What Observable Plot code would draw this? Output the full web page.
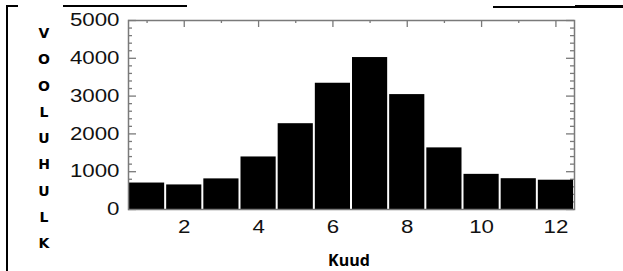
<!DOCTYPE html>
<html><head><meta charset="utf-8">
<script src="https://cdn.jsdelivr.net/npm/d3@7"></script>
<script src="https://cdn.jsdelivr.net/npm/@observablehq/plot@0.6"></script>
<style>
body{margin:0;background:#fff;}
#wrap{position:relative;width:623px;height:271px;overflow:hidden;background:#fff;}
#wrap svg{position:absolute;left:0;top:0;}
.bd{position:absolute;background:#000;}
.ylab{position:absolute;left:35px;width:18px;text-align:center;font-family:"DejaVu Sans";font-weight:bold;font-size:14px;line-height:16px;color:#000;}
#xlab{position:absolute;left:299px;width:100px;top:251px;text-align:center;font-family:"Open Sans";font-weight:bold;font-size:16px;line-height:18px;color:#000;}
</style></head><body>
<div id="wrap"></div>
<script>
// ---- data ----
const months = [1, 2, 3, 4, 5, 6, 7, 8, 9, 10, 11, 12];
const volumes = [700, 650, 810, 1390, 2270, 3340, 4020, 3040, 1630, 930, 815, 775];
const xTickLabels = [2, 4, 6, 8, 10, 12];
const xMinorTicks = [1, 3, 5, 7, 9, 11];
const yTickLabels = [0, 1000, 2000, 3000, 4000, 5000];
const yMinorTicks = [200, 400, 600, 800, 1200, 1400, 1600, 1800, 2200, 2400, 2600, 2800, 3200, 3400, 3600, 3800, 4200, 4400, 4600, 4800];
const yTitle = "VOOLUHULK";
const xTitle = "Kuud";

const W = 623, H = 271, mL = 128, mR = 49, mT = 20, mB = 62;
const pw = W - mL - mR, ph = H - mT - mB;
const data = months.map((m, i) => ({m, v: volumes[i]}));
const tk = {stroke: "#7a7a7a", strokeWidth: 1.3};

const chart = Plot.plot({
  width: W, height: H,
  marginLeft: mL, marginRight: mR, marginTop: mT, marginBottom: mB,
  style: {fontFamily: "Liberation Sans", fontSize: "18px", color: "#111", background: "transparent"},
  x: {domain: [0.5, 12.5], ticks: xTickLabels, tickSize: 0, tickPadding: 11, label: null, tickFormat: d3.format("d")},
  y: {domain: [0, 5000], ticks: yTickLabels, tickSize: 0, tickPadding: 9, label: null, tickFormat: d3.format("d")},
  marks: [
    Plot.tickY(yTickLabels, {y: d => d, insetRight: pw - 8, ...tk}),
    Plot.tickY(yTickLabels, {y: d => d, insetLeft: pw - 8, ...tk}),
    Plot.tickY(yMinorTicks, {y: d => d, insetRight: pw - 4, ...tk}),
    Plot.tickY(yMinorTicks, {y: d => d, insetLeft: pw - 4, ...tk}),
    Plot.tickX(xTickLabels, {x: d => d, insetBottom: ph - 7, ...tk}),
    Plot.tickX(xMinorTicks, {x: d => d, insetBottom: ph - 3, ...tk}),
    Plot.rectY(data, {x1: d => d.m - 0.5, x2: d => d.m + 0.5, y: "v", fill: "#000", insetLeft: 1, insetRight: 1}),
    Plot.frame({stroke: "#7a7a7a", strokeWidth: 1.5})
  ]
});

d3.select(chart).selectAll('g[aria-label="y-axis tick label"] text, g[aria-label="x-axis tick label"] text')
  .each(function() {
    const n = this.textContent.length;
    this.setAttribute("textLength", n * 12.4);
    this.setAttribute("lengthAdjust", "spacingAndGlyphs");
  });

const wrap = document.getElementById("wrap");
wrap.appendChild(chart);

// decorative table borders
[[6, 5, 2, 266], [6, 5, 12, 2], [63, 5, 124, 2], [493, 6, 82, 1.5], [575, 5, 48, 3]].forEach(([l, t, w, h]) => {
  const d = document.createElement("div");
  d.className = "bd";
  Object.assign(d.style, {left: l + "px", top: t + "px", width: w + "px", height: h + "px"});
  wrap.appendChild(d);
});

// vertical stacked y title
[...yTitle].forEach((ch, i) => {
  const d = document.createElement("div");
  d.className = "ylab";
  d.textContent = ch;
  d.style.top = (33 + i * 26.25 - 8) + "px";
  wrap.appendChild(d);
});
const xl = document.createElement("div");
xl.id = "xlab";
xl.textContent = xTitle;
wrap.appendChild(xl);
</script>
</body></html>
